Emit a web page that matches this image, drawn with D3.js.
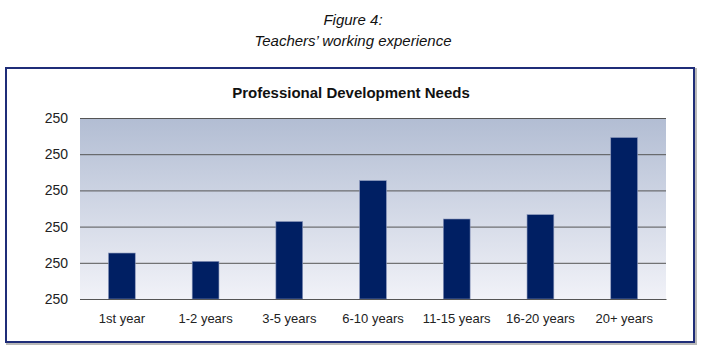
<!DOCTYPE html>
<html>
<head>
    <title>Professional Development Needs</title>
    <script src="https://cdn.jsdelivr.net/npm/d3@7/dist/d3.min.js"></script>
    <style>
        body { margin: 0; background: #fff; }
        .caption {
            font-family: "Liberation Sans", Arial, sans-serif;
            font-style: italic;
            font-size: 15px;
            fill: #111;
        }
        .chart-title {
            font-family: "Liberation Sans", Arial, sans-serif;
            font-weight: bold;
            font-size: 15px;
            fill: #111;
        }
        .tick text {
            font-family: "Liberation Sans", Arial, sans-serif;
            font-size: 14px;
            fill: #222;
        }
        .x-axis .tick text {
            font-size: 13px;
        }
    </style>
</head>
<body>
    <div id="chart"></div>

    <script>
        const categories = ["1st year", "1-2 years", "3-5 years", "6-10 years", "11-15 years", "16-20 years", "20+ years"];
        const values = [1.27, 1.04, 2.14, 3.27, 2.21, 2.33, 4.46];
        const yTicks = [0, 1, 2, 3, 4, 5];
        const yTickLabels = ["250", "250", "250", "250", "250", "250"];

        const W = 706, H = 351;
        const plot = { left: 80, right: 666, top: 118, bottom: 299 };

        const svg = d3.select('#chart')
            .append('svg')
            .attr('width', W)
            .attr('height', H);

        // figure caption
        svg.append('text')
            .attr('class', 'caption')
            .attr('x', W / 2)
            .attr('y', 25)
            .attr('text-anchor', 'middle')
            .text('Figure 4:');
        svg.append('text')
            .attr('class', 'caption')
            .attr('x', W / 2)
            .attr('y', 46)
            .attr('text-anchor', 'middle')
            .text('Teachers\u2019 working experience');

        // frame with small shadow
        svg.append('rect')
            .attr('x', 7).attr('y', 69)
            .attr('width', 689).attr('height', 275)
            .attr('fill', 'none')
            .attr('stroke', '#b8b8b8')
            .attr('stroke-width', 2);
        svg.append('rect')
            .attr('x', 6).attr('y', 68)
            .attr('width', 688).attr('height', 274)
            .attr('fill', '#fff')
            .attr('stroke', '#1f2d78')
            .attr('stroke-width', 2);

        svg.append('text')
            .attr('class', 'chart-title')
            .attr('x', 351)
            .attr('y', 98)
            .attr('text-anchor', 'middle')
            .text('Professional Development Needs');

        const defs = svg.append('defs');
        const grad = defs.append('linearGradient')
            .attr('id', 'bg')
            .attr('x1', 0).attr('y1', 0)
            .attr('x2', 0).attr('y2', 1);
        grad.append('stop').attr('offset', '0%').attr('stop-color', '#b2bdd3');
        grad.append('stop').attr('offset', '100%').attr('stop-color', '#f1f2f8');

        const x = d3.scaleBand()
            .domain(categories)
            .range([plot.left, plot.right])
            .paddingInner(0.68)
            .paddingOuter(0.34);

        const y = d3.scaleLinear()
            .domain([0, 5])
            .range([plot.bottom, plot.top]);

        svg.append('rect')
            .attr('x', plot.left)
            .attr('y', plot.top)
            .attr('width', plot.right - plot.left)
            .attr('height', plot.bottom - plot.top)
            .attr('fill', 'url(#bg)');

        const yAxis = svg.append('g')
            .attr('transform', 'translate(' + plot.left + ',0)')
            .call(d3.axisLeft(y)
                .tickValues(yTicks)
                .tickSize(-(plot.right - plot.left))
                .tickPadding(12)
                .tickFormat(function(d, i) { return yTickLabels[i]; }));
        yAxis.select('.domain').remove();
        yAxis.selectAll('.tick line')
            .attr('stroke', '#555')
            .attr('stroke-width', 1);

        svg.selectAll('.bar')
            .data(values)
            .enter()
            .append('rect')
            .attr('class', 'bar')
            .attr('x', function(d, i) { return x(categories[i]); })
            .attr('y', function(d) { return y(d); })
            .attr('width', x.bandwidth())
            .attr('height', function(d) { return plot.bottom - y(d); })
            .attr('fill', '#001f63')
            .attr('stroke', '#8a97bb')
            .attr('stroke-width', 0.6);

        const xAxis = svg.append('g')
            .attr('class', 'x-axis')
            .attr('transform', 'translate(0,' + plot.bottom + ')')
            .call(d3.axisBottom(x).tickSize(0).tickPadding(15));
        xAxis.select('.domain')
            .attr('stroke', '#555');
    </script>
</body>
</html>
